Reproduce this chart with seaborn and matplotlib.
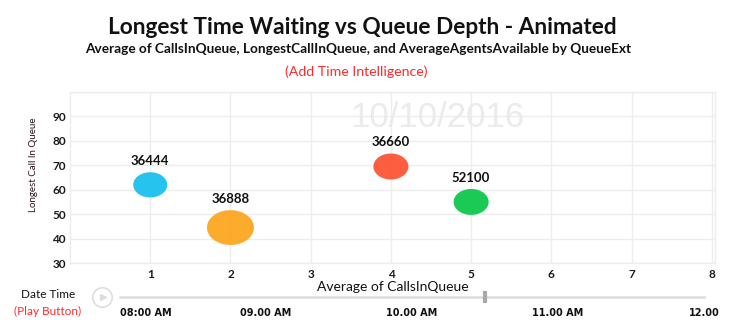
import numpy as np
import pandas as pd
import matplotlib
matplotlib.use("Agg")
import matplotlib.pyplot as plt
from matplotlib.path import Path
from matplotlib.lines import Line2D
import seaborn as sns

# ---------------- data ----------------
queue_ext = ["36444", "36888", "36660", "52100"]
calls_in_queue = [1.0, 2.0, 4.0, 5.0]
longest_call = [62.0, 44.5, 69.5, 55.0]
agents_available = [2.0, 3.5, 2.1, 2.1]
bubble_colors = ["#1ec1ee", "#fca826", "#fc5939", "#12c94f"]

x_ticks = [1, 2, 3, 4, 5, 6, 7, 8]
y_ticks = [30, 40, 50, 60, 70, 80, 90]

time_hours = [8, 9, 10, 11, 12]
time_labels = ["08:00 AM", "09.00 AM", "10.00 AM", "11.00 AM", "12.00"]
current_time = 10.5
watermark = "10/10/2016"

title = "Longest Time Waiting vs Queue Depth - Animated"
subtitle = "Average of CallsInQueue, LongestCallInQueue, and AverageAgentsAvailable by QueueExt"
note = "(Add Time Intelligence)"

df = pd.DataFrame({
    "QueueExt": queue_ext,
    "CallsInQueue": calls_in_queue,
    "LongestCallInQueue": longest_call,
    "AverageAgentsAvailable": agents_available,
})

# ---------------- style ----------------
sns.set_theme(style="white")
plt.rcParams["font.family"] = ["Lato", "DejaVu Sans"]

W, H = 736, 335
fig = plt.figure(figsize=(W / 100, H / 100), dpi=100)

def fx(px):
    return px / W

def fy(py):
    return 1 - py / H

ax = fig.add_axes([fx(70), fy(263), fx(715) - fx(70), fy(92) - fy(263)])

# elliptical marker (the chart is horizontally stretched)
aspect = 1.35
t = np.linspace(0, 2 * np.pi, 64)
ellipse = Path(np.column_stack([aspect * np.cos(t), np.sin(t)]), closed=True)

size_range = (600, 1145)
sns.scatterplot(
    data=df, x="CallsInQueue", y="LongestCallInQueue",
    hue="QueueExt", palette=bubble_colors,
    size="AverageAgentsAvailable", sizes=size_range,
    marker=ellipse, linewidth=0, alpha=0.97,
    legend=False, ax=ax, zorder=3,
)

# labels above bubbles
vmin, vmax = min(agents_available), max(agents_available)
for xv, yv, lab, a in zip(calls_in_queue, longest_call, queue_ext, agents_available):
    area = size_range[0] + (a - vmin) / (vmax - vmin) * (size_range[1] - size_range[0])
    half_h = np.sqrt(area) / aspect / 2
    ax.annotate(lab, (xv, yv), xytext=(0, half_h + 8), textcoords="offset points",
                ha="center", va="center", fontsize=9.5, fontweight="bold",
                color="#111111", zorder=4)

# watermark
ax.text(0.57, 0.852, watermark, transform=ax.transAxes, ha="center", va="center",
        fontsize=25, color="#ebebeb", family="Liberation Sans", zorder=1)

ax.set_xlim(0, 8.04)
ax.set_ylim(30, 100)
ax.set_xticks(x_ticks)
ax.set_yticks(y_ticks + [100])
ax.set_yticklabels([str(v) for v in y_ticks] + [""])
ax.grid(True, color="#ededed", linewidth=1)
ax.set_axisbelow(True)
for s in ax.spines.values():
    s.set_color("#ededed")
    s.set_linewidth(1)
ax.tick_params(axis="both", length=0, labelsize=8.5, labelcolor="#1a1a1a")
ax.tick_params(axis="x", pad=4)
ax.tick_params(axis="y", pad=3)
for lab in ax.get_xticklabels() + ax.get_yticklabels():
    lab.set_fontweight("bold")

ax.set_xlabel("Average of CallsInQueue", fontsize=10, color="#111111", labelpad=1)
ax.set_ylabel("Longest Call In Queue", fontsize=7, color="#2a1515")
ax.yaxis.set_label_coords(-0.05, 0.573)

# titles
fig.text(fx(362), fy(28), title, ha="center", va="center", fontsize=16.3,
         fontweight="bold", color="#111111")
fig.text(fx(358), fy(49), subtitle, ha="center", va="center", fontsize=9.8,
         fontweight="bold", color="#111111")
fig.text(fx(356), fy(72), note, ha="center", va="center", fontsize=10.2,
         color="#ff2a2a")

# ---------------- time slider ----------------
sl = fig.add_axes([fx(120), fy(297), fx(704) - fx(120), 0.001])
sl.set_xlim(time_hours[0], time_hours[-1])
sl.set_ylim(0, 1)
for side in ["top", "left", "right"]:
    sl.spines[side].set_visible(False)
sl.spines["bottom"].set_color("#dddddd")
sl.spines["bottom"].set_linewidth(1.8)
sl.set_yticks([])
sl.set_xticks(time_hours)
sl.set_xticks(np.arange(time_hours[0], time_hours[-1], 0.5), minor=True)
sl.set_xticklabels(time_labels)
sl.tick_params(axis="x", which="both", direction="inout", length=4, width=1,
               color="#d0d0d0", pad=6, labelsize=7, labelcolor="#111111")
for lab in sl.get_xticklabels():
    lab.set_fontfamily("DejaVu Sans")
    lab.set_fontweight("bold")
sl.get_xticklabels()[0].set_horizontalalignment("left")
sl.plot([current_time], [0], marker="|", markersize=9, markeredgewidth=3,
        color="#a8a8a8", clip_on=False, zorder=5)

fig.add_artist(Line2D([fx(102)], [fy(297)], marker="o", markersize=14,
                      markerfacecolor="white", markeredgecolor="#dedede",
                      markeredgewidth=1.2, transform=fig.transFigure))
fig.add_artist(Line2D([fx(103)], [fy(297)], marker=">", markersize=5,
                      markerfacecolor="#dcdcdc", markeredgecolor="#dcdcdc",
                      transform=fig.transFigure))

fig.text(fx(48), fy(294), "Date Time", ha="center", va="center", fontsize=8.5,
         color="#111111")
fig.text(fx(48), fy(311), "(Play Button)", ha="center", va="center", fontsize=8.5,
         color="#ff2a2a")

fig.savefig("out.png", dpi=100, facecolor="white")
